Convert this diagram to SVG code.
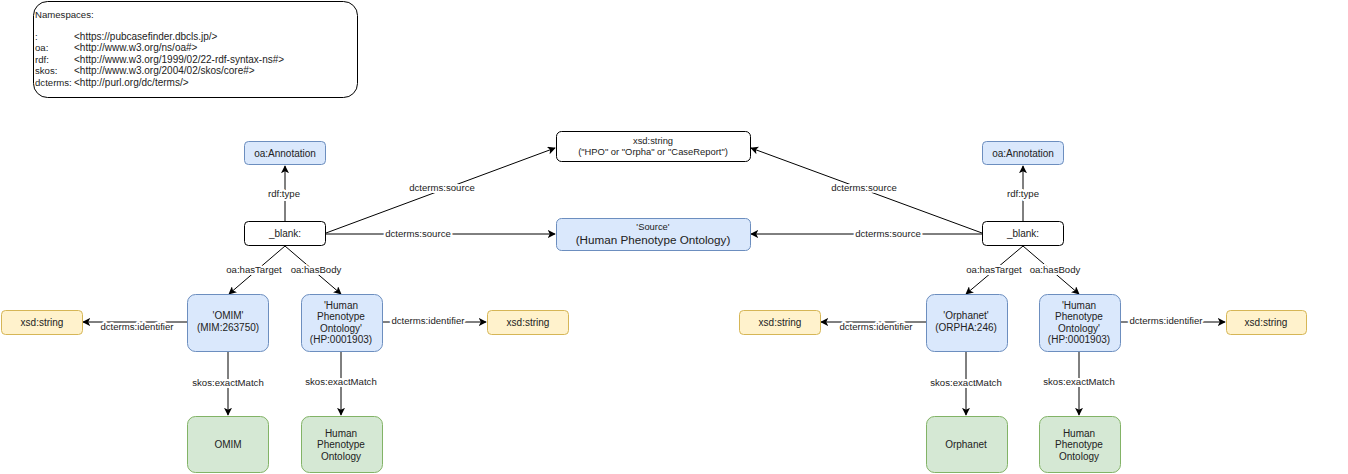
<svg xmlns="http://www.w3.org/2000/svg" width="1348" height="474" viewBox="0 0 1348 474">
<defs>
<marker id="arr" viewBox="0 0 10 10" refX="9" refY="5" markerWidth="8" markerHeight="8" markerUnits="userSpaceOnUse" orient="auto">
<path d="M0,0 L10,5 L0,10 L2.5,5 Z" fill="#000"/>
</marker>
<style>
text{font-family:"Liberation Sans",Arial,sans-serif;font-size:10px;fill:#222;}
.c{text-anchor:middle;}
.ns{font-size:9.6px;}
.nv{font-size:10px;}
.blue{fill:#dae8fc;stroke:#6c8ebf;stroke-width:1;}
.yel{fill:#fff2cc;stroke:#d6b656;stroke-width:1;}
.grn{fill:#d5e8d4;stroke:#82b366;stroke-width:1;}
.wht{fill:#fff;stroke:#000;stroke-width:1;}
.e{stroke:#000;stroke-width:1;fill:none;marker-end:url(#arr);}
.lbl{font-size:9.6px;text-anchor:middle;stroke:#fff;stroke-width:4px;paint-order:stroke;stroke-linejoin:round;}
</style>
</defs>
<rect width="1348" height="474" fill="#fff"/>

<g id="namespaces">
<rect x="33.5" y="1.5" width="324" height="96" rx="14" ry="14" class="wht"/>
<text class="ns" x="35" y="18">Namespaces:</text>
<text class="ns" x="35" y="39.5">:</text><text class="nv" x="74" y="39.5">&lt;https://pubcasefinder.dbcls.jp/&gt;</text>
<text class="ns" x="35" y="51">oa:</text><text class="nv" x="74" y="51">&lt;http://www.w3.org/ns/oa#&gt;</text>
<text class="ns" x="35" y="62.5">rdf:</text><text class="nv" x="74" y="62.5">&lt;http://www.w3.org/1999/02/22-rdf-syntax-ns#&gt;</text>
<text class="ns" x="35" y="74">skos:</text><text class="nv" x="74" y="74">&lt;http://www.w3.org/2004/02/skos/core#&gt;</text>
<text class="ns" x="35" y="85.5">dcterms:</text><text class="nv" x="74" y="85.5">&lt;http://purl.org/dc/terms/&gt;</text>
</g>

<g id="connectors">
<!-- left -->
<line x1="285" y1="221" x2="285" y2="166" class="e"/>
<line x1="285" y1="246" x2="229" y2="294" class="e"/>
<line x1="285" y1="246" x2="341" y2="294" class="e"/>
<line x1="187" y1="322" x2="83" y2="322" class="e"/>
<line x1="382" y1="322" x2="486" y2="322" class="e"/>
<line x1="228" y1="351" x2="228" y2="415" class="e"/>
<line x1="341" y1="351" x2="341" y2="415" class="e"/>
<line x1="326" y1="233" x2="555" y2="148" class="e"/>
<line x1="326" y1="234" x2="555" y2="234" class="e"/>
<!-- right -->
<line x1="1023" y1="221" x2="1023" y2="166" class="e"/>
<line x1="1023" y1="246" x2="966" y2="294" class="e"/>
<line x1="1023" y1="246" x2="1079" y2="294" class="e"/>
<line x1="926" y1="322" x2="821" y2="322" class="e"/>
<line x1="1120" y1="322" x2="1225" y2="322" class="e"/>
<line x1="966" y1="351" x2="966" y2="415" class="e"/>
<line x1="1079" y1="351" x2="1079" y2="415" class="e"/>
<line x1="982" y1="233" x2="751" y2="148" class="e"/>
<line x1="982" y1="234" x2="751" y2="234" class="e"/>
<!-- labels -->
<text class="lbl" x="284" y="197">rdf:type</text>
<text class="lbl" x="254" y="273">oa:hasTarget</text>
<text class="lbl" x="316" y="273">oa:hasBody</text>
<text class="lbl" x="137" y="330">dcterms:identifier</text>
<text class="lbl" x="428" y="324">dcterms:identifier</text>
<text class="lbl" x="228" y="386">skos:exactMatch</text>
<text class="lbl" x="341" y="385">skos:exactMatch</text>
<text class="lbl" x="442" y="191">dcterms:source</text>
<text class="lbl" x="418" y="237">dcterms:source</text>
<text class="lbl" x="1023" y="197">rdf:type</text>
<text class="lbl" x="994" y="273">oa:hasTarget</text>
<text class="lbl" x="1055" y="273">oa:hasBody</text>
<text class="lbl" x="876" y="330">dcterms:identifier</text>
<text class="lbl" x="1166" y="324">dcterms:identifier</text>
<text class="lbl" x="966" y="386">skos:exactMatch</text>
<text class="lbl" x="1079" y="385">skos:exactMatch</text>
<text class="lbl" x="864" y="191">dcterms:source</text>
<text class="lbl" x="888" y="237">dcterms:source</text>
</g>

<g id="xsd-source">
<rect x="556.5" y="131.5" width="194" height="30" rx="5" class="wht"/>
<text class="c" x="653" y="143.5" style="font-size:9.4px">xsd:string</text>
<text class="c" x="653" y="155" style="font-size:9.4px">("HPO" or "Orpha" or "CaseReport")</text>
</g>
<g id="source">
<rect x="556.5" y="218.5" width="194" height="32" rx="5" class="blue"/>
<text class="c" x="653" y="229.5" style="font-size:9.4px">'Source'</text>
<text class="c" x="653" y="244" style="font-size:11.7px">(Human Phenotype Ontology)</text>
</g>

<g id="annotation-left">
<rect x="244.5" y="141.5" width="81" height="23" rx="4" class="blue"/>
<text class="c" x="285" y="156.5">oa:Annotation</text>
</g>
<g id="blank-left">
<rect x="244.5" y="221.5" width="81" height="24" rx="4" class="wht"/>
<text class="c" x="285" y="237">_blank:</text>
</g>
<g id="omim">
<rect x="187.5" y="294.5" width="81" height="57" rx="8" class="blue"/>
<text class="c" x="228" y="318.5">'OMIM'</text>
<text class="c" x="228" y="330.5">(MIM:263750)</text>
</g>
<g id="hpo-left">
<rect x="301.5" y="294.5" width="81" height="57" rx="8" class="blue"/>
<text class="c" x="341" y="308.5">'Human</text>
<text class="c" x="341" y="320">Phenotype</text>
<text class="c" x="341" y="331.5">Ontology'</text>
<text class="c" x="341" y="343">(HP:0001903)</text>
</g>
<g id="xsd-left-1">
<rect x="1.5" y="310.5" width="81" height="24" rx="4" class="yel"/>
<text class="c" x="42" y="326">xsd:string</text>
</g>
<g id="xsd-left-2">
<rect x="487.5" y="310.5" width="81" height="24" rx="4" class="yel"/>
<text class="c" x="528" y="326">xsd:string</text>
</g>
<g id="omim-db">
<rect x="187.5" y="416.5" width="81" height="56" rx="8" class="grn"/>
<text class="c" x="228" y="448">OMIM</text>
</g>
<g id="hpo-db-left">
<rect x="301.5" y="416.5" width="81" height="56" rx="8" class="grn"/>
<text class="c" x="341" y="436.5">Human</text>
<text class="c" x="341" y="448">Phenotype</text>
<text class="c" x="341" y="459.5">Ontology</text>
</g>

<g id="annotation-right">
<rect x="982.5" y="141.5" width="81" height="23" rx="4" class="blue"/>
<text class="c" x="1023" y="156.5">oa:Annotation</text>
</g>
<g id="blank-right">
<rect x="982.5" y="221.5" width="81" height="24" rx="4" class="wht"/>
<text class="c" x="1023" y="237">_blank:</text>
</g>
<g id="orphanet">
<rect x="926.5" y="294.5" width="81" height="57" rx="8" class="blue"/>
<text class="c" x="966" y="318.5">'Orphanet'</text>
<text class="c" x="966" y="330.5">(ORPHA:246)</text>
</g>
<g id="hpo-right">
<rect x="1039.5" y="294.5" width="81" height="57" rx="8" class="blue"/>
<text class="c" x="1079" y="308.5">'Human</text>
<text class="c" x="1079" y="320">Phenotype</text>
<text class="c" x="1079" y="331.5">Ontology'</text>
<text class="c" x="1079" y="343">(HP:0001903)</text>
</g>
<g id="xsd-right-1">
<rect x="739.5" y="310.5" width="81" height="24" rx="4" class="yel"/>
<text class="c" x="780" y="326">xsd:string</text>
</g>
<g id="xsd-right-2">
<rect x="1226.5" y="310.5" width="80" height="24" rx="4" class="yel"/>
<text class="c" x="1266" y="326">xsd:string</text>
</g>
<g id="orphanet-db">
<rect x="926.5" y="416.5" width="81" height="56" rx="8" class="grn"/>
<text class="c" x="966" y="448">Orphanet</text>
</g>
<g id="hpo-db-right">
<rect x="1039.5" y="416.5" width="81" height="56" rx="8" class="grn"/>
<text class="c" x="1079" y="436.5">Human</text>
<text class="c" x="1079" y="448">Phenotype</text>
<text class="c" x="1079" y="459.5">Ontology</text>
</g>
</svg>
